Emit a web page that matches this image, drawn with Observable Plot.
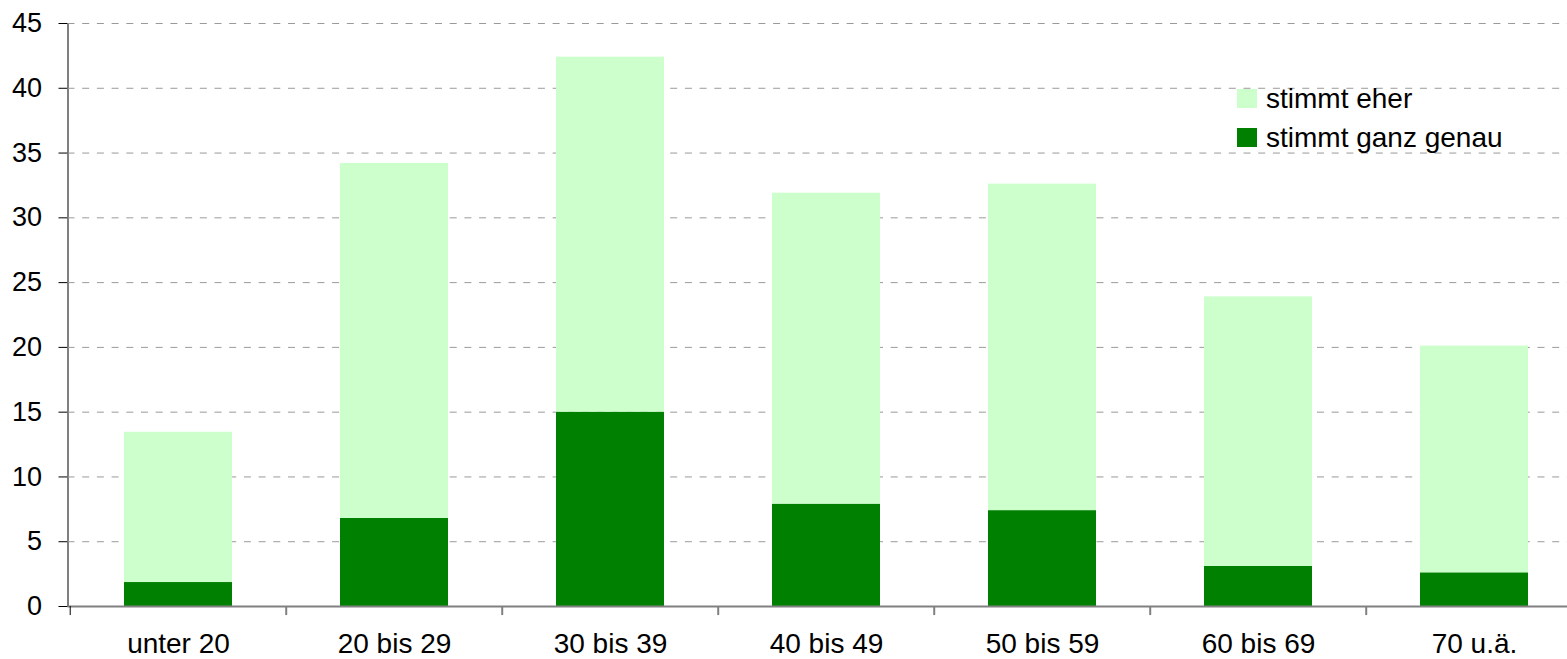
<!DOCTYPE html>
<html>
<head>
<meta charset="utf-8">
<script src="https://cdn.jsdelivr.net/npm/d3@7"></script>
<script src="https://cdn.jsdelivr.net/npm/@observablehq/plot@0.6"></script>
<style>
  html, body { margin: 0; padding: 0; background: white; overflow: hidden; }
  #wrap { position: relative; width: 1567px; height: 659px; overflow: hidden; }
  .legend { position: absolute; left: 1237px; top: 89px; font-family: "Liberation Sans", Arial, sans-serif; font-size: 28px; color: black; }
  .legend .item { position: relative; height: 39px; display: flex; align-items: flex-start; }
  .legend .sw { width: 20px; height: 19px; margin-right: 9px; }
  .legend .lbl { line-height: 19px; margin-top: 0px; white-space: nowrap; }
</style>
</head>
<body>
<div id="wrap"></div>
<script>
const categories = ["unter 20", "20 bis 29", "30 bis 39", "40 bis 49", "50 bis 59", "60 bis 69", "70 u.ä."];
const seriesNames = ["stimmt ganz genau", "stimmt eher"];
const ganzGenau = [1.85, 6.8, 15.0, 7.9, 7.4, 3.1, 2.6];
const eher = [11.6, 27.4, 27.4, 24.0, 25.2, 20.8, 17.5];
const seriesColors = ["#008000", "#CCFFCC"];
const yTicks = [0, 5, 10, 15, 20, 25, 30, 35, 40, 45];

const data = [];
categories.forEach((c, i) => {
  data.push({cat: c, series: seriesNames[0], value: ganzGenau[i]});
  data.push({cat: c, series: seriesNames[1], value: eher[i]});
});

const xRange = [67.5, 1583.5];
const step = (xRange[1] - xRange[0]) / categories.length;

const plot = Plot.plot({
  width: 1567,
  height: 659,
  marginLeft: 67.5,
  marginRight: 0,
  marginTop: 23,
  marginBottom: 53,
  style: {fontFamily: "'Liberation Sans', Arial, sans-serif", fontSize: "27px", color: "black", background: "white"},
  x: {domain: categories, range: xRange, paddingInner: 0.5, paddingOuter: 0.25, tickSize: 0, tickPadding: 27, label: null},
  y: {domain: [0, 45], ticks: yTicks, tickSize: 9, tickPadding: 17, label: null, line: true, tickFormat: d => String(d)},
  color: {domain: seriesNames, range: seriesColors},
  marks: [
    Plot.ruleY(yTicks.filter(d => d > 0), {stroke: "#9a9a9a", strokeDasharray: "7,7.7", strokeWidth: 1}),
    Plot.barY(data, {x: "cat", y: "value", fill: "series"}),
    Plot.ruleY([0], {stroke: "#808080", strokeWidth: 2}),
    Plot.ruleX(categories, {x: d => d, y1: 0, y2: -0.7, dx: -step / 2, stroke: (d, i) => i === 0 ? "black" : "#808080", strokeWidth: (d, i) => i === 0 ? 1 : 2})
  ]
});

const wrap = document.getElementById("wrap");
wrap.appendChild(plot);
// slightly larger category labels, as in the reference
d3.select(plot).selectAll("g[aria-label='x-axis tick label'] text, g[aria-label='x-axis'] text").style("font-size", "28px");

const legend = document.createElement("div");
legend.className = "legend";
[1, 0].forEach(k => {
  const item = document.createElement("div");
  item.className = "item";
  const sw = document.createElement("div");
  sw.className = "sw";
  sw.style.background = seriesColors[k];
  const lbl = document.createElement("div");
  lbl.className = "lbl";
  lbl.textContent = seriesNames[k];
  item.appendChild(sw);
  item.appendChild(lbl);
  legend.appendChild(item);
});
wrap.appendChild(legend);
</script>
</body>
</html>
